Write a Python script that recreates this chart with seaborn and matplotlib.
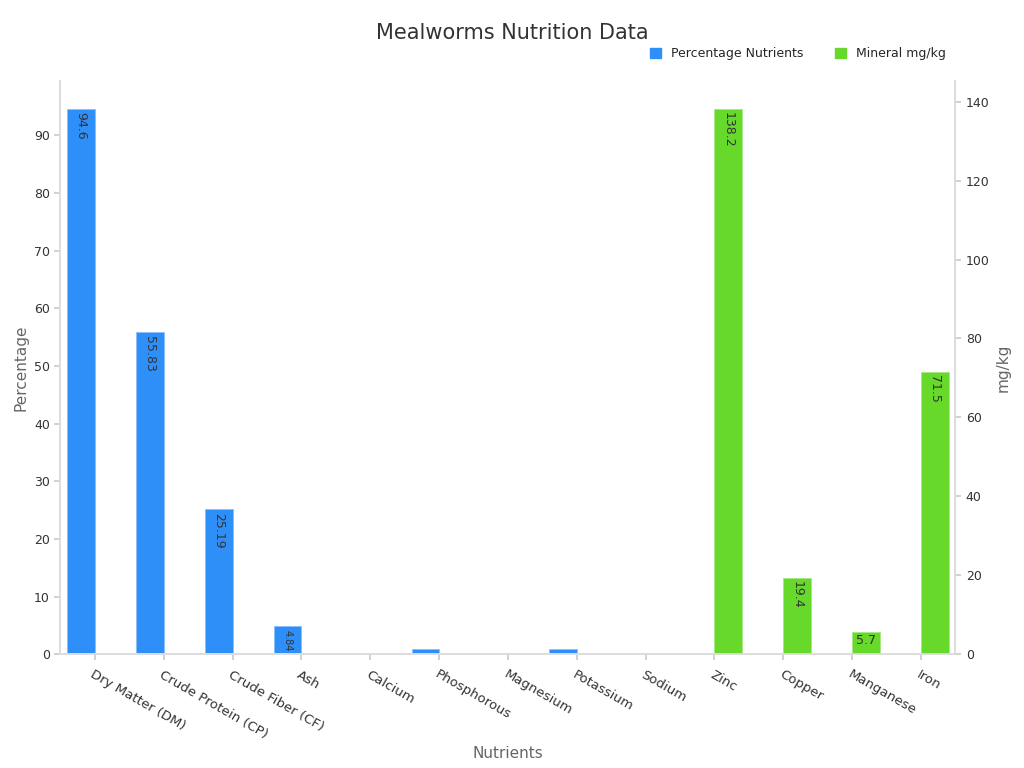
import matplotlib
matplotlib.use("Agg")
import matplotlib.pyplot as plt
import seaborn as sns
import numpy as np

categories = ["Dry Matter (DM)", "Crude Protein (CP)", "Crude Fiber (CF)", "Ash", "Calcium",
              "Phosphorous", "Magnesium", "Potassium", "Sodium", "Zinc", "Copper", "Manganese", "Iron"]
pct_values = [94.6, 55.83, 25.19, 4.84, 0.25, 1.0, 0.3, 1.0, 0.25, None, None, None, None]
mineral_values = [None]*9 + [138.2, 19.4, 5.7, 71.5]
pct_labels = ["94.6", "55.83", "25.19", "4.84", "", "", "", "", ""]
mineral_labels = ["138.2", "19.4", "5.7", "71.5"]

sns.set_theme(style="white")
fig, ax = plt.subplots(figsize=(10.24, 7.68), dpi=100)
fig.subplots_adjust(left=0.059, right=0.933, top=0.895, bottom=0.148)
ax2 = ax.twinx()
x = np.arange(len(categories))
blue, green = "#2e8ff8", "#66d92a"
w = 0.4
for i, v in enumerate(pct_values):
    if v is None: continue
    ax.bar(i - w/2, v, width=w, color=blue, edgecolor="#8cc0fb", linewidth=0.6)
    lab = pct_labels[i]
    if lab:
        fs = 7 if v < 10 else 9
        ax.text(i - w/2, v - 0.6, lab, rotation=-90, ha="center", va="top", fontsize=fs, color="#333333")
for j, v in enumerate(mineral_values):
    if v is None: continue
    ax2.bar(j + w/2, v, width=w, color=green, edgecolor="#a6e884", linewidth=0.6)
    lab = mineral_labels[j - 9]
    if v < 10:
        ax2.text(j + w/2, v - 0.5, lab, ha="center", va="top", fontsize=9, color="#333333")
    else:
        ax2.text(j + w/2, v - 0.8, lab, rotation=-90, ha="center", va="top", fontsize=9, color="#333333")

ax.set_xlim(-0.5, len(categories) - 0.5)
ax.set_ylim(0, 99.5)
ax2.set_ylim(0, 145.3)
ax.set_yticks(range(0, 100, 10))
ax2.set_yticks(range(0, 141, 20))
ax.set_xticks(x)
ax.set_xticklabels(categories, rotation=-30, ha="left", rotation_mode="anchor", fontsize=9.5, color="#333333")
ax.tick_params(axis="y", labelsize=9, colors="#333333", left=True, length=4, color="#cccccc")
ax2.tick_params(axis="y", labelsize=9, colors="#333333", right=True, length=4, color="#cccccc")
ax.tick_params(axis="x", bottom=True, length=4, color="#cccccc", pad=6)
for a in (ax, ax2):
    for s in a.spines.values():
        s.set_color("#dddddd")
    a.spines["top"].set_visible(False)
ax.set_xlabel("Nutrients", fontsize=11, color="#666666", labelpad=4)
ax.set_ylabel("Percentage", fontsize=11, color="#666666")
ax2.set_ylabel("mg/kg", fontsize=11, color="#666666")
fig.suptitle("Mealworms Nutrition Data", fontsize=15, color="#333333", y=0.97)
from matplotlib.patches import Patch
fig.legend(handles=[Patch(color=blue, label="Percentage Nutrients"), Patch(color=green, label="Mineral mg/kg")],
           loc="upper right", bbox_to_anchor=(0.935, 0.953), ncol=2, frameon=False, fontsize=9,
           handlelength=0.9, handleheight=0.9, columnspacing=2.5)
fig.savefig("out.png", dpi=100)
